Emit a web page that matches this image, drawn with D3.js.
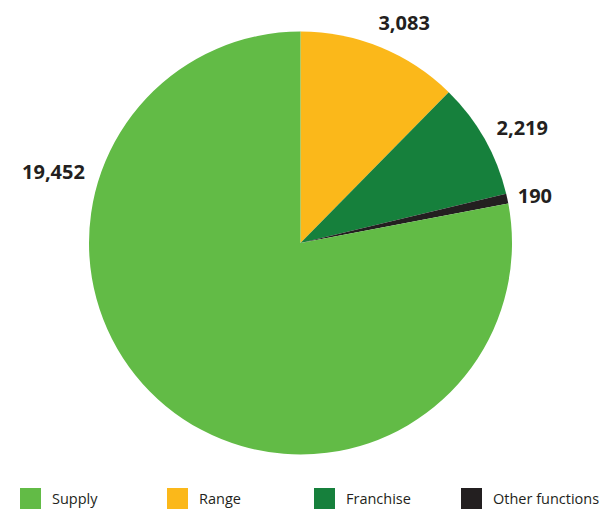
<!DOCTYPE html>
<html><head><meta charset="utf-8">
<script src="https://cdn.jsdelivr.net/npm/d3@7"></script>
<style>body{margin:0;background:#fff}svg{display:block}text{font-family:"Open Sans","Noto Sans",sans-serif;fill:#231f20}</style>
</head><body>
<svg id="c" width="606" height="509"></svg>
<script>
const categories = ["Range", "Franchise", "Other functions", "Supply"];
const values = [3083, 2219, 190, 19452];
const colors = ["#fbb81a", "#16803c", "#231f20", "#62bb46"];
const legendOrder = ["Supply", "Range", "Franchise", "Other functions"];

const svg = d3.select("#c");
const cx = 300.5, cy = 243, r = 211.5;
const data = categories.map((c, i) => ({cat: c, value: values[i], color: colors[i]}));
const pie = d3.pie().value(d => d.value).sort(null);
const arcs = pie(data);
const arc = d3.arc().innerRadius(0).outerRadius(r);
const g = svg.append("g").attr("transform", `translate(${cx},${cy})`);
g.selectAll("path").data(arcs).join("path").attr("d", arc).attr("fill", d => d.data.color);

const fmt = d3.format(",");
const deg = Math.PI / 180;
const labelTweak = {"Range": [3, 243], "Franchise": [2, 250], "Other functions": [0.8, 239]};
arcs.forEach(a => {
  const mid = (a.startAngle + a.endAngle) / 2;
  let ang, rr;
  if (a.data.cat === "Supply") { ang = 286 * deg; rr = 257; }
  else { const t = labelTweak[a.data.cat]; ang = mid + t[0] * deg; rr = t[1]; }
  const x = rr * Math.sin(ang), y = -rr * Math.cos(ang);
  g.append("text").attr("x", x).attr("y", y).attr("dy", "0.35em")
    .attr("text-anchor", "middle").attr("font-size", 20).attr("font-weight", 700)
    .text(fmt(a.data.value));
});

const legendX = [20, 167, 314, 461];
const colorOf = Object.fromEntries(data.map(d => [d.cat, d.color]));
legendOrder.forEach((c, i) => {
  svg.append("rect").attr("x", legendX[i]).attr("y", 488).attr("width", 21).attr("height", 21).attr("fill", colorOf[c]);
  svg.append("text").attr("x", legendX[i] + 32).attr("y", 504).attr("font-size", 14.5).text(c);
});
</script>
</body></html>
